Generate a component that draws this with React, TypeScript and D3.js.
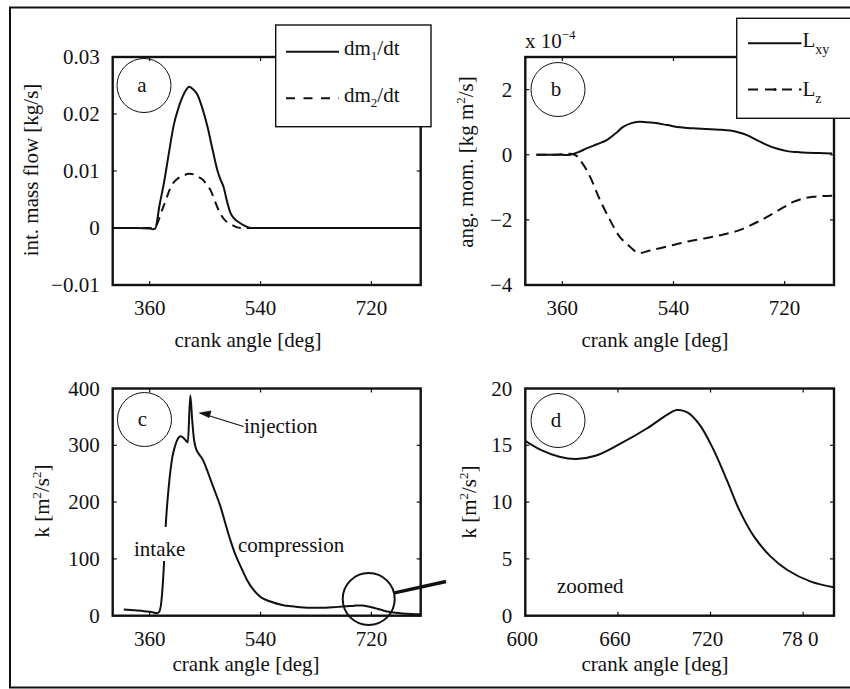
import React from "react";
import * as d3 from "d3";

// ---------- data ----------
// (a) integrated mass flow [kg/s] vs crank angle [deg]
const dm1Angles = [300, 340, 360, 365, 369, 376, 383, 391, 399, 406, 413, 419, 424, 430, 437, 445, 454, 462, 470, 475, 480, 486, 491, 497, 505, 514, 524, 540, 600, 700, 800];
const dm1Values = [0, 0, -0.0001, -0.0002, -0.0001, 0.004, 0.0078, 0.013, 0.018, 0.0208, 0.0229, 0.0242, 0.0248, 0.0244, 0.0235, 0.0212, 0.0177, 0.0138, 0.0101, 0.0085, 0.0072, 0.0045, 0.0027, 0.0017, 0.001, 0.0004, 0, 0, 0, 0, 0];
const dm2Angles = [300, 340, 368, 372, 379, 386, 392, 397, 406, 415, 424, 432, 440, 446, 452, 459, 465, 470, 476, 483, 490, 500, 510, 600, 700, 800];
const dm2Values = [0, 0, 0, 0.0007, 0.0028, 0.0048, 0.0066, 0.0077, 0.0087, 0.0092, 0.0095, 0.0094, 0.0089, 0.0085, 0.0077, 0.0066, 0.005, 0.0036, 0.0023, 0.0013, 0.0008, 0.0002, 0, 0, 0, 0];

// (b) angular momentum [1e-4 kg m^2/s]
const lxyAngles = [318, 350, 373, 386, 400, 416, 432, 446, 459, 472, 484, 496, 508, 530, 551, 572, 594, 614, 632, 646, 659, 675, 691, 707, 724, 740, 756, 776, 797];
const lxyValues = [0, 0, 0, 0.08, 0.2, 0.32, 0.45, 0.65, 0.86, 0.97, 1.01, 1.0, 0.98, 0.91, 0.84, 0.81, 0.79, 0.77, 0.74, 0.68, 0.6, 0.45, 0.3, 0.19, 0.11, 0.08, 0.06, 0.05, 0.04];
const lzAngles = [318, 350, 380, 392, 405, 421, 437, 453, 470, 483, 500, 518, 540, 562, 590, 616, 645, 670, 686, 702, 718, 735, 751, 767, 782, 797];
const lzValues = [0, 0, 0, -0.25, -0.68, -1.39, -2.0, -2.52, -2.83, -3.02, -2.95, -2.87, -2.77, -2.67, -2.57, -2.47, -2.33, -2.12, -1.97, -1.8, -1.62, -1.44, -1.34, -1.29, -1.27, -1.26];

// (c) turbulent kinetic energy k [m^2/s^2], intake + compression
const kAngles = [318, 335, 351, 365, 372, 376, 379, 383, 386, 391, 397, 401, 405, 410, 415, 419, 422, 426, 429, 432, 435, 439, 445, 452, 459, 467, 475, 483, 491, 499, 508, 518, 529, 540, 556, 575, 590];
const kValues = [11, 9.5, 8, 6, 4.5, 8, 25, 86, 157, 227, 280, 298, 310, 316, 313, 308, 305, 388, 345, 310, 295, 286, 277, 260, 239, 216, 192, 162, 133, 108, 86, 63, 45, 33, 25, 19, 16.5];
// (d) k around top dead centre (zoomed)
const kZoomAngles = [600, 610, 622, 633, 646, 661, 679, 692, 698, 705, 713, 722, 731, 739, 748, 759, 770, 785, 800];
const kZoomValues = [15.4, 14.6, 14.0, 13.8, 14.1, 15.1, 16.5, 17.7, 18.1, 17.9, 16.8, 14.6, 11.8, 9.2, 7.0, 5.2, 4.0, 3.0, 2.5];

// ticks
const crankTicks = [360, 540, 720];
const crankTickLabels = ["360", "540", "720"];
const zoomTicks = [600, 660, 720, 780];
const zoomTickLabels = ["600", "660", "720", "78 0"];
const flowTicks = [-0.01, 0, 0.01, 0.02, 0.03];
const flowTickLabels = ["\u22120.01", "0", "0.01", "0.02", "0.03"];
const momTicks = [-4, -2, 0, 2];
const momTickLabels = ["\u22124", "\u22122", "0", "2"];
const kTicks = [0, 100, 200, 300, 400];
const kTickLabels = ["0", "100", "200", "300", "400"];
const kZoomTicks = [0, 5, 10, 15, 20];
const kZoomTickLabels = ["0", "5", "10", "15", "20"];

const FONT = '"Liberation Serif"';
const FS = 21;
const txt: React.CSSProperties = { fontFamily: FONT, fontSize: FS };

type Series = { x: number[]; y: number[]; dash?: string };
type Spec = {
  id: string;
  left: number; top: number; right: number; bottom: number;
  xDomain: [number, number]; yDomain: [number, number];
  xTicks: number[]; xTickLabels: string[];
  yTicks: number[]; yTickLabels: string[];
  xLabelDx?: number;
  smooth?: boolean;
  series: Series[];
};

function Panel({ spec }: { spec: Spec }) {
  const xs = d3.scaleLinear().domain(spec.xDomain).range([spec.left, spec.right]);
  const ys = d3.scaleLinear().domain(spec.yDomain).range([spec.bottom, spec.top]);
  const line = d3
    .line<[number, number]>()
    .x((d) => xs(d[0]))
    .y((d) => ys(d[1]))
    .curve(spec.smooth ? d3.curveCatmullRom.alpha(0.5) : d3.curveMonotoneX);
  const tl = 4;
  return (
    <g>
      <defs>
        <clipPath id={`clip-${spec.id}`}>
          <rect x={spec.left} y={spec.top} width={spec.right - spec.left} height={spec.bottom - spec.top} />
        </clipPath>
      </defs>
      <g clipPath={`url(#clip-${spec.id})`}>
        {spec.series.map((s, i) => (
          <path
            key={i}
            d={line(s.x.map((v, j) => [v, s.y[j]] as [number, number])) || ""}
            fill="none"
            stroke="#111"
            strokeWidth={2}
            strokeDasharray={s.dash}
            strokeLinejoin="round"
          />
        ))}
      </g>
      <rect
        x={spec.left}
        y={spec.top}
        width={spec.right - spec.left}
        height={spec.bottom - spec.top}
        fill="none"
        stroke="#111"
        strokeWidth={2.4}
      />
      {spec.xTicks.map((t, i) => (
        <g key={`xt${i}`}>
          <line x1={xs(t)} x2={xs(t)} y1={spec.bottom} y2={spec.bottom - tl} stroke="#111" strokeWidth={1.2} />
          <line x1={xs(t)} x2={xs(t)} y1={spec.top} y2={spec.top + tl} stroke="#111" strokeWidth={1.2} />
          <text x={xs(t) + (spec.xLabelDx || 0)} y={spec.bottom + 30} textAnchor="middle" style={txt} fill="#111">
            {spec.xTickLabels[i]}
          </text>
        </g>
      ))}
      {spec.yTicks.map((t, i) => (
        <g key={`yt${i}`}>
          <line x1={spec.left} x2={spec.left + tl} y1={ys(t)} y2={ys(t)} stroke="#111" strokeWidth={1.2} />
          <line x1={spec.right} x2={spec.right - tl} y1={ys(t)} y2={ys(t)} stroke="#111" strokeWidth={1.2} />
          <text x={spec.left - 13} y={ys(t) + 7} textAnchor="end" style={txt} fill="#111">
            {spec.yTickLabels[i]}
          </text>
        </g>
      ))}
    </g>
  );
}

function PanelTag({ cx, cy, label }: { cx: number; cy: number; label: string }) {
  return (
    <g>
      <circle cx={cx} cy={cy} r={27} fill="none" stroke="#111" strokeWidth={1} />
      <text x={cx - 2} y={cy + 6} textAnchor="middle" style={txt} fill="#111">
        {label}
      </text>
    </g>
  );
}

function XLabel({ x, y }: { x: number; y: number }) {
  return (
    <text x={x} y={y} textAnchor="middle" style={txt} fill="#111">
      crank angle [deg]
    </text>
  );
}

export default function App() {
  const specA: Spec = {
    id: "a", left: 112.7, top: 57, right: 420.7, bottom: 285,
    xDomain: [300, 800], yDomain: [-0.01, 0.03],
    xTicks: crankTicks, xTickLabels: crankTickLabels,
    yTicks: flowTicks, yTickLabels: flowTickLabels,
    series: [
      { x: dm1Angles, y: dm1Values },
      { x: dm2Angles, y: dm2Values, dash: "9,6" },
    ],
  };
  const specB: Spec = {
    id: "b", left: 525.3, top: 57, right: 834, bottom: 285,
    xDomain: [300, 800], yDomain: [-4, 3], smooth: true,
    xTicks: crankTicks, xTickLabels: crankTickLabels,
    yTicks: momTicks, yTickLabels: momTickLabels,
    series: [
      { x: lxyAngles, y: lxyValues },
      { x: lzAngles, y: lzValues, dash: "10,6" },
    ],
  };
  const specC: Spec = {
    id: "c", left: 112.7, top: 388.5, right: 420.7, bottom: 615.7,
    xDomain: [300, 800], yDomain: [0, 400],
    xTicks: crankTicks, xTickLabels: crankTickLabels,
    yTicks: kTicks, yTickLabels: kTickLabels,
    series: [{ x: kAngles.concat(kZoomAngles), y: kValues.concat(kZoomValues) }],
  };
  const specD: Spec = {
    id: "d", left: 525.3, top: 388.5, right: 834, bottom: 615.7,
    xDomain: [600, 800], yDomain: [0, 20], smooth: true,
    xTicks: zoomTicks, xTickLabels: zoomTickLabels, xLabelDx: -3,
    yTicks: kZoomTicks, yTickLabels: kZoomTickLabels,
    series: [{ x: kZoomAngles, y: kZoomValues }],
  };

  return (
    <svg
      width={850}
      height={689}
      viewBox="0 0 850 689"
      style={{ position: "absolute", left: 0, top: 0, background: "#fff" }}
    >
      <rect x={0} y={0} width={850} height={689} fill="#fff" />

      <Panel spec={specA} />
      <Panel spec={specB} />
      <Panel spec={specC} />
      <Panel spec={specD} />

      {/* axis titles */}
      <XLabel x={248} y={347} />
      <XLabel x={655} y={347} />
      <XLabel x={246} y={671} />
      <XLabel x={655} y={671} />

      <text transform="translate(38,170) rotate(-90)" textAnchor="middle" style={txt} fill="#111">
        int. mass flow [kg/s]
      </text>
      <text transform="translate(473,162) rotate(-90)" textAnchor="middle" style={txt} fill="#111">
        ang. mom. [kg m<tspan fontSize={13} dy={-8}>2</tspan><tspan dy={8}>/s]</tspan>
      </text>
      <text transform="translate(49,501) rotate(-90)" textAnchor="middle" style={txt} fill="#111">
        k [m<tspan fontSize={13} dy={-8}>2</tspan><tspan dy={8}>/s</tspan><tspan fontSize={13} dy={-8}>2</tspan><tspan dy={8}>]</tspan>
      </text>
      <text transform="translate(476,502) rotate(-90)" textAnchor="middle" style={txt} fill="#111">
        k [m<tspan fontSize={13} dy={-8}>2</tspan><tspan dy={8}>/s</tspan><tspan fontSize={13} dy={-8}>2</tspan><tspan dy={8}>]</tspan>
      </text>

      {/* exponent of panel b */}
      <text x={525} y={48} style={txt} fill="#111">
        x 10<tspan fontSize={13} dy={-9}>{"\u22124"}</tspan>
      </text>

      {/* panel tags */}
      <PanelTag cx={144} cy={85.5} label="a" />
      <PanelTag cx={558} cy={89.5} label="b" />
      <PanelTag cx={144.5} cy={419.5} label="c" />
      <PanelTag cx={558} cy={420.5} label="d" />

      {/* annotations in panel c */}
      <rect x={131} y={527} width={58} height={34} fill="#fff" />
      <text x={134} y={556} style={txt} fill="#111">intake</text>
      <text x={238} y={551.5} style={txt} fill="#111">compression</text>
      <text x={244} y={433} style={txt} fill="#111">injection</text>
      <line x1={243.5} y1={426.5} x2={205} y2={414.5} stroke="#111" strokeWidth={1.2} />
      <polygon points="199.5,413 211,411 209,417.5" fill="#111" stroke="#111" strokeWidth={0.8} />

      {/* magnifier in panel c pointing to panel d */}
      <circle cx={368.7} cy={599} r={26} fill="none" stroke="#111" strokeWidth={2} />
      <line x1={394.5} y1={592.8} x2={446} y2={581.5} stroke="#111" strokeWidth={3.4} />

      {/* panel d note */}
      <text x={557} y={593} style={txt} fill="#111">zoomed</text>

      {/* legend a */}
      <rect x={275.7} y={25} width={155.3} height={101.7} fill="#fff" stroke="#111" strokeWidth={1.4} />
      <line x1={286} x2={339} y1={51.7} y2={51.7} stroke="#111" strokeWidth={2} />
      <text x={344} y={55} style={txt} fill="#111">
        dm<tspan fontSize={13} dy={5}>1</tspan><tspan dy={-5}>/dt</tspan>
      </text>
      <line x1={286} x2={339} y1={98.3} y2={98.3} stroke="#111" strokeWidth={2} strokeDasharray="9,8.5" />
      <text x={344} y={102} style={txt} fill="#111">
        dm<tspan fontSize={13} dy={5}>2</tspan><tspan dy={-5}>/dt</tspan>
      </text>

      {/* legend b */}
      <rect x={736.7} y={18.3} width={120} height={100} fill="#fff" stroke="#111" strokeWidth={1.4} />
      <line x1={748} x2={801.5} y1={43.3} y2={43.3} stroke="#111" strokeWidth={2} />
      <text x={802.5} y={47} style={txt} fill="#111">
        L<tspan fontSize={14} dy={7}>xy</tspan>
      </text>
      <line x1={748} x2={801.5} y1={89.5} y2={89.5} stroke="#111" strokeWidth={2} strokeDasharray="10,7" />
      <circle cx={775} cy={89.5} r={1.6} fill="#111" />
      <text x={802.5} y={96} style={txt} fill="#111">
        L<tspan fontSize={14} dy={7}>z</tspan>
      </text>

      {/* outer frame */}
      <rect x={10} y={7.5} width={850} height={680} fill="none" stroke="#111" strokeWidth={2} />
    </svg>
  );
}
